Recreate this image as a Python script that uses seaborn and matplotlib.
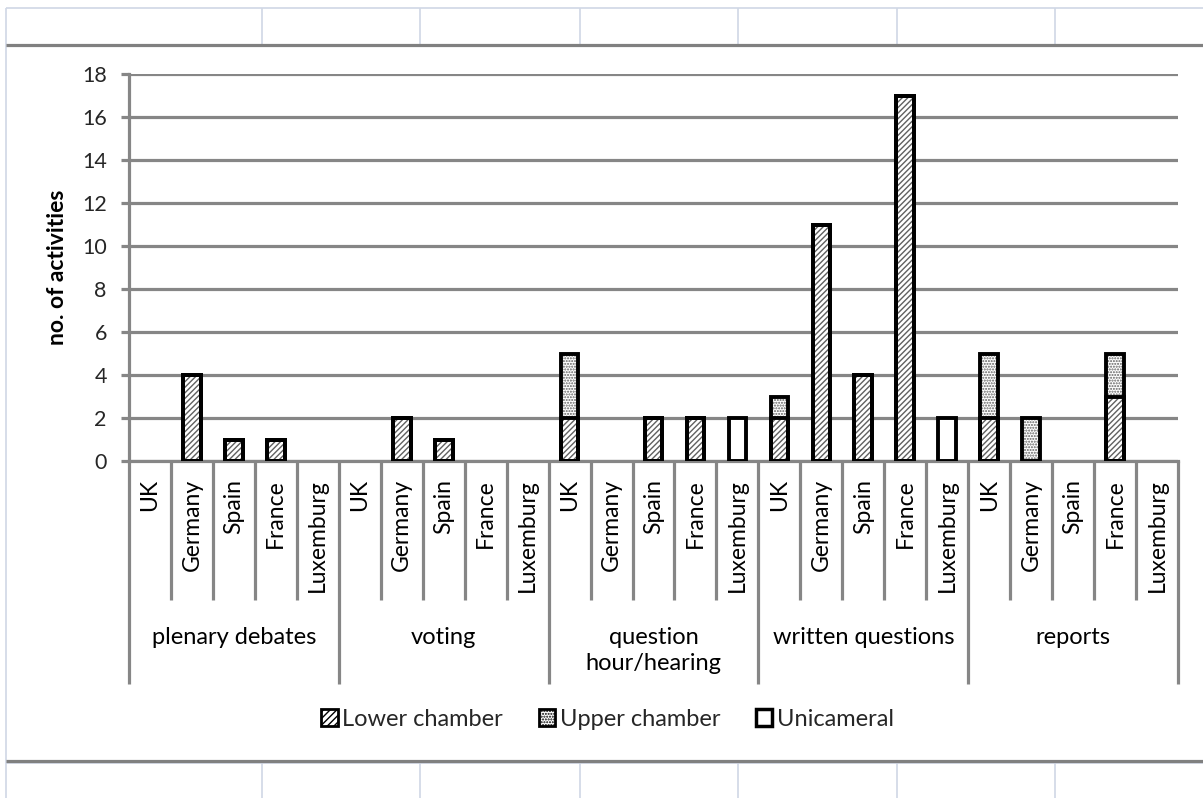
import numpy as np
import pandas as pd
import matplotlib
matplotlib.use("Agg")
import matplotlib.pyplot as plt
import seaborn as sns
from matplotlib.patches import Patch
from matplotlib.lines import Line2D
import matplotlib.transforms as mtransforms

# ---------------- data ----------------
groups = ["plenary debates", "voting", "question\nhour/hearing", "written questions", "reports"]
countries = ["UK", "Germany", "Spain", "France", "Luxemburg"]
lower_chamber = [0, 4, 1, 1, 0,
                 0, 2, 1, 0, 0,
                 2, 0, 2, 2, 0,
                 2, 11, 4, 17, 0,
                 2, 0, 0, 3, 0]
upper_chamber = [0, 0, 0, 0, 0,
                 0, 0, 0, 0, 0,
                 3, 0, 0, 0, 0,
                 1, 0, 0, 0, 0,
                 3, 2, 0, 2, 0]
unicameral = [0, 0, 0, 0, 0,
              0, 0, 0, 0, 0,
              0, 0, 0, 0, 2,
              0, 0, 0, 0, 2,
              0, 0, 0, 0, 0]
y_ticks = [0, 2, 4, 6, 8, 10, 12, 14, 16, 18]
legend_labels = ["Lower chamber", "Upper chamber", "Unicameral"]

# ---------------- style ----------------
sns.set_theme(style="white")
plt.rcParams["font.family"] = ["Lato", "DejaVu Sans"]
plt.rcParams["hatch.linewidth"] = 1.0

W, H = 1203, 798
fig = plt.figure(figsize=(W / 100, H / 100), dpi=100)
fig.patch.set_facecolor("white")

# axes placement (pixels -> figure fraction)
ax_l, ax_r, ax_t, ax_b = 129, 1178, 74, 461
ax = fig.add_axes([ax_l / W, 1 - ax_b / H, (ax_r - ax_l) / W, (ax_b - ax_t) / H])

n = len(groups) * len(countries)
df = pd.DataFrame({
    "slot": np.arange(n),
    "lower": lower_chamber,
    "upper": upper_chamber,
    "uni": unicameral,
})
df["lower_upper"] = df["lower"] + df["upper"]

GRID = "#868686"
BW = 0.42
H_LOWER = "//////"
H_UPPER = "......"

layers = [
    ("uni", "", "#ffffff"),
    ("lower_upper", H_UPPER, "#606060"),
    ("lower", H_LOWER, "#606060"),
]
for col, hatch, hcol in layers:
    start = len(ax.patches)
    sns.barplot(data=df, x="slot", y=col, color="white", width=BW,
                hatch=hatch, edgecolor=hcol, linewidth=0, saturation=1,
                errorbar=None, ax=ax, zorder=3)
    sns.barplot(data=df, x="slot", y=col, color="black", fill=False, width=BW,
                linewidth=2.8, errorbar=None, ax=ax, zorder=4)
    for p in ax.patches[start:]:
        if p.get_height() == 0:
            p.set_visible(False)
        else:
            p.set_edgecolor(hcol if p.get_linewidth() == 0 else "black")

ax.set_xlim(-0.5, n - 0.5)
ax.set_ylim(0, 18)
ax.set_yticks(y_ticks)
ax.set_yticklabels([str(t) for t in y_ticks], fontsize=15.5)
ax.set_xticks([])
ax.set_xlabel("")
ax.set_ylabel("")
for s in ["top", "right"]:
    ax.spines[s].set_visible(False)
for s in ["left", "bottom"]:
    ax.spines[s].set_color(GRID)
    ax.spines[s].set_linewidth(2.3)
ax.tick_params(axis="y", length=6, width=2.3, color=GRID, direction="out", pad=10, left=True)
ax.yaxis.grid(True, color=GRID, linewidth=2.3, zorder=1)
ax.set_axisbelow(True)

axpx = ax_b - ax_t
def ay(py):
    return (ax_b - py) / axpx

trans = mtransforms.blended_transform_factory(ax.transData, ax.transAxes)
# category separators
for i in range(n + 1):
    is_group = (i % len(countries) == 0)
    y_end = ay(684) if is_group else ay(600)
    ax.add_line(Line2D([i - 0.5, i - 0.5], [0, y_end], transform=trans,
                       color=GRID, linewidth=2.3, clip_on=False, solid_capstyle="butt"))
# country labels
for i in range(n):
    ax.text(i, ay(479), countries[i % len(countries)], transform=trans, rotation=90,
            ha="center", va="top", fontsize=16.5, color="black")
# group labels
for g, name in enumerate(groups):
    cx = g * len(countries) + (len(countries) - 1) / 2
    ax.text(cx, ay(627), name, transform=trans, ha="center", va="top",
            fontsize=17, color="black", linespacing=1.3)

fig.text(58 / W, 1 - 267 / H, "no. of activities", rotation=90, ha="center", va="center",
         fontsize=16.5, fontweight="bold", color="black")

# legend
handles = [
    Patch(facecolor="white", edgecolor="black", hatch="/////", linewidth=2),
    Patch(facecolor="white", edgecolor="black", hatch=H_UPPER, linewidth=2),
    Patch(facecolor="white", edgecolor="black", linewidth=2.5),
]
fig.legend(handles, legend_labels, loc="center", bbox_to_anchor=(0.505, 1 - 719 / H),
           ncol=3, frameon=False, fontsize=17, handlelength=0.7, handleheight=0.7,
           handletextpad=0.2, columnspacing=1.5)

# spreadsheet frame around the chart
LIGHT = "#d0d7e5"
def fl(x0, y0, x1, y1, color, lw):
    fig.add_artist(Line2D([x0 / W, x1 / W], [1 - y0 / H, 1 - y1 / H], color=color,
                          linewidth=lw, transform=fig.transFigure, solid_capstyle="butt"))
fl(6, 8, W, 8, LIGHT, 1.2)
fl(6, 8, 6, H, LIGHT, 1.2)
for x in [262, 420, 580, 738, 897, 1055]:
    fl(x, 8, x, 45, LIGHT, 1.2)
    fl(x, 763, x, H, LIGHT, 1.2)
fl(6, 763, W, 763, LIGHT, 1.2)
fl(6, 45, W, 45, "#808080", 2.3)
fl(6, 761, W, 761, "#808080", 2.3)

fig.savefig("out.png", dpi=100, facecolor="white")
